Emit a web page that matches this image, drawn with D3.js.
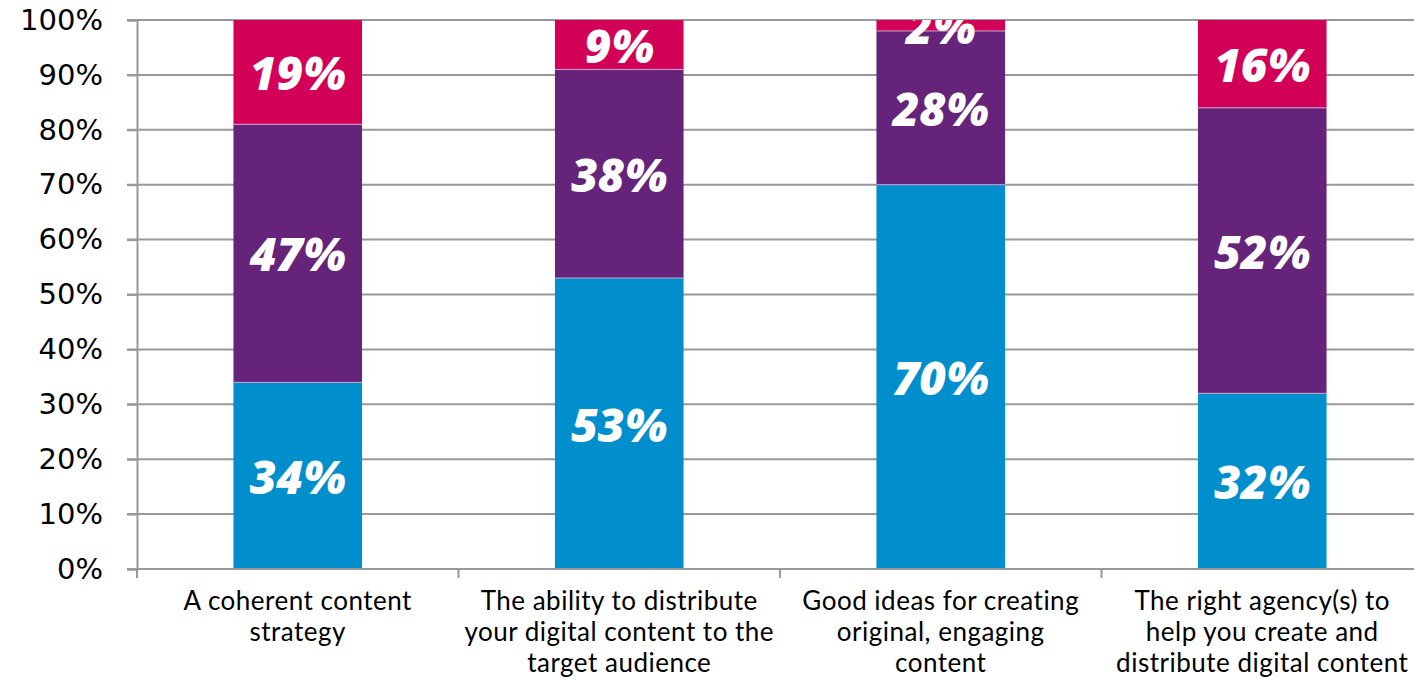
<!DOCTYPE html>
<html>
<head>
<meta charset="utf-8">
<script src="https://cdn.jsdelivr.net/npm/d3@7"></script>
<style>
  html, body { margin: 0; padding: 0; background: #fff; }
  svg { display: block; }
</style>
</head>
<body>
<svg id="chart" width="1414" height="679"></svg>
<script>
// Categories (each label split into its display lines)
const categories = [
  ["A coherent content", "strategy"],
  ["The ability to distribute", "your digital content to the", "target audience"],
  ["Good ideas for creating", "original, engaging", "content"],
  ["The right agency(s) to", "help you create and", "distribute digital content"]
];
const categoryKeys = ["strategy", "distribution", "ideas", "agency"];

// Stacked series values, bottom to top (percent)
const seriesBottom = [34, 53, 70, 32];
const seriesMiddle = [47, 38, 28, 52];
const seriesTop    = [19, 9, 2, 16];

const seriesColors = ["#008ecd", "#652479", "#d20057"];
const yTicks = [0, 10, 20, 30, 40, 50, 60, 70, 80, 90, 100];

const svg = d3.select("#chart");
const margin = { left: 137, top: 20, bottom: 110 };
const plotW = 1286; // extends past the right edge of the canvas
const height = 679;
const innerH = height - margin.top - margin.bottom;

const x = d3.scaleBand()
  .domain(categoryKeys)
  .range([margin.left, margin.left + plotW])
  .paddingInner(0.6)
  .paddingOuter(0.3);

const y = d3.scaleLinear().domain([0, 100]).range([margin.top + innerH, margin.top]);

// Gridlines
svg.append("g")
  .selectAll("line")
  .data(yTicks)
  .join("line")
  .attr("x1", margin.left - 10)
  .attr("x2", margin.left + plotW)
  .attr("y1", d => y(d))
  .attr("y2", d => y(d))
  .attr("stroke", "#999")
  .attr("stroke-width", 2);

// Stacked data
const rows = categoryKeys.map((k, i) => ({
  key: k, bottom: seriesBottom[i], middle: seriesMiddle[i], top: seriesTop[i]
}));
const stack = d3.stack().keys(["bottom", "middle", "top"]);
const layers = stack(rows);

svg.append("defs").append("clipPath").attr("id", "plotClip")
  .append("rect")
  .attr("x", margin.left)
  .attr("y", margin.top)
  .attr("width", plotW)
  .attr("height", innerH);

const layerG = svg.append("g")
  .selectAll("g")
  .data(layers)
  .join("g")
  .attr("fill", (d, i) => seriesColors[i]);

layerG.selectAll("rect")
  .data(d => d)
  .join("rect")
  .attr("x", d => x(d.data.key))
  .attr("width", x.bandwidth())
  .attr("y", d => y(d[1]))
  .attr("height", d => y(d[0]) - y(d[1]));

// Thin light separators between segments
layerG.filter((d, i) => i > 0).selectAll("line")
  .data(d => d)
  .join("line")
  .attr("x1", d => x(d.data.key))
  .attr("x2", d => x(d.data.key) + x.bandwidth())
  .attr("y1", d => y(d[0]))
  .attr("y2", d => y(d[0]))
  .attr("stroke", "#c9a6cf")
  .attr("stroke-width", 1);

// Value labels (clipped to the plot area, as the thin top segment is)
const labelG = svg.append("g").attr("clip-path", "url(#plotClip)");
layers.forEach(layer => {
  labelG.selectAll(null)
    .data(layer)
    .join("text")
    .attr("x", d => x(d.data.key) + x.bandwidth() / 2)
    .attr("y", d => y((d[0] + d[1]) / 2))
    .attr("text-anchor", "middle")
    .attr("dominant-baseline", "central")
    .attr("fill", "#fff")
    .attr("font-family", "'Open Sans', sans-serif")
    .attr("font-weight", 800)
    .attr("font-style", "italic")
    .attr("font-size", 46)
    .text(d => `${d.data[layer.key]}%`);
});

// Y axis
const yAxis = d3.axisLeft(y)
  .tickValues(yTicks)
  .tickFormat(d => d + "%")
  .tickSize(10)
  .tickPadding(24);
const yg = svg.append("g")
  .attr("transform", `translate(${margin.left},0)`)
  .call(yAxis);
yg.select(".domain").attr("stroke", "#999").attr("stroke-width", 2);
yg.selectAll(".tick line").attr("stroke", "#999").attr("stroke-width", 2);
yg.selectAll(".tick text")
  .attr("fill", "#000")
  .attr("font-family", "'DejaVu Sans', sans-serif")
  .attr("font-size", 29);

// X axis (category separators)
const xg = svg.append("g")
  .attr("transform", `translate(0,${margin.top + innerH})`);
const step = x.step();
const sepXs = d3.range(categoryKeys.length + 1).map(i => margin.left + i * step);
xg.append("line")
  .attr("x1", margin.left).attr("x2", margin.left + plotW)
  .attr("y1", 0).attr("y2", 0)
  .attr("stroke", "#999").attr("stroke-width", 2);
xg.selectAll(".sep")
  .data(sepXs)
  .join("line")
  .attr("class", "sep")
  .attr("x1", d => d).attr("x2", d => d)
  .attr("y1", 0).attr("y2", 9)
  .attr("stroke", "#999").attr("stroke-width", 2);

// Category labels
const catText = xg.selectAll(".cat")
  .data(categories.map((lines, i) => ({ lines, key: categoryKeys[i] })))
  .join("text")
  .attr("class", "cat")
  .attr("text-anchor", "middle")
  .attr("font-family", "Lato, sans-serif")
  .attr("font-size", 26)
  .attr("letter-spacing", 0.5)
  .attr("fill", "#000");
catText.selectAll("tspan")
  .data(d => d.lines.map(l => ({ l, cx: x(d.key) + x.bandwidth() / 2 })))
  .join("tspan")
  .attr("x", d => d.cx)
  .attr("y", (d, i) => 41 + i * 31)
  .text(d => d.l);
</script>
</body>
</html>
